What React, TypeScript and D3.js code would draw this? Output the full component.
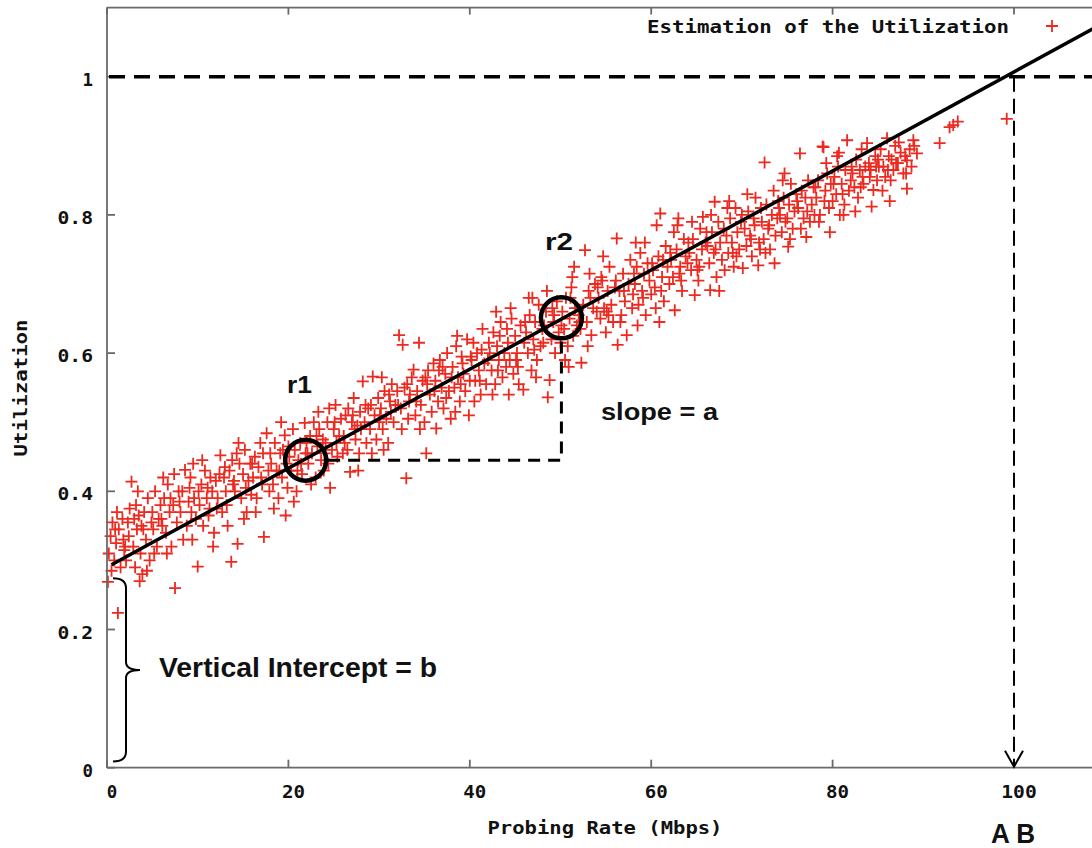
import React from "react";
import * as d3 from "d3";

// ---------- data ----------
const xTicks = [0, 20, 40, 60, 80, 100];
const yTicks = [0, 0.2, 0.4, 0.6, 0.8, 1];
const yTickLabels = ["0", "0.2", "0.4", "0.6", "0.8", "1"];
const xLabel = "Probing Rate (Mbps)";
const yLabel = "Utilization";
const legendLabel = "Estimation of the Utilization";

// fitted regression line: utilization = b + a * rate
const fitIntercept = 0.29;
const fitSlope = 0.00717;

// annotation anchors (data coordinates)
const r1Point: [number, number] = [21.9, 0.445];
const r2Point: [number, number] = [50.1, 0.651];
const availableBandwidth = 100;

// estimated utilization samples [probing rate (Mbps), utilization]
const samples: [number, number][] = [
  [0.2,0.31],[0.4,0.335],[0.1,0.269],[0.6,0.355],[0.8,0.30],[1.0,0.325],[1.2,0.224],[1.3,0.345],[1.5,0.29],[1.7,0.36],[1.9,0.315],[0.5,0.285],[1.1,0.37],[1.8,0.33],
  [2.1,0.30],[2.3,0.355],[2.5,0.375],[2.7,0.414],[2.9,0.32],[3.1,0.29],[3.3,0.345],[3.5,0.365],[3.7,0.31],[3.9,0.28],[2.4,0.335],[3.2,0.38],[3.8,0.35],
  [4.1,0.37],[4.3,0.33],[4.5,0.39],[4.7,0.30],[4.9,0.355],[5.1,0.345],[5.3,0.40],[5.5,0.32],[5.7,0.36],[5.9,0.38],[4.4,0.285],[5.2,0.31],
  [6.1,0.35],[6.3,0.39],[6.5,0.34],[6.7,0.41],[6.9,0.37],[7.1,0.32],[7.3,0.38],[7.5,0.26],[7.7,0.355],[7.9,0.40],[6.6,0.31],[7.4,0.425],
  [8.1,0.37],[8.3,0.40],[8.6,0.431],[8.8,0.35],[9.0,0.385],[9.2,0.42],[9.4,0.33],[9.6,0.39],[9.8,0.36],[8.4,0.33],[9.1,0.405],[10.0,0.291],
  [10.2,0.38],[10.4,0.41],[10.6,0.35],[10.8,0.43],[11.0,0.39],[11.2,0.365],[11.4,0.42],[11.6,0.40],[11.8,0.34],[10.5,0.445],[11.3,0.375],[12.0,0.415],
  [12.2,0.39],[12.5,0.452],[12.7,0.37],[12.9,0.42],[13.1,0.40],[13.3,0.35],[13.5,0.43],[13.7,0.298],[13.9,0.41],[12.4,0.425],[13.2,0.38],[13.8,0.445],
  [14.1,0.40],[14.4,0.324],[14.6,0.44],[14.8,0.39],[15.0,0.425],[15.2,0.46],[15.4,0.37],[15.6,0.415],[15.8,0.44],[14.3,0.455],[15.1,0.36],[15.9,0.395],
  [16.1,0.42],[16.3,0.45],[16.5,0.39],[16.7,0.435],[16.9,0.47],[17.1,0.41],[17.3,0.334],[17.6,0.484],[17.8,0.43],[16.4,0.37],[17.2,0.455],[17.9,0.40],
  [18.1,0.44],[18.3,0.41],[18.5,0.47],[18.7,0.43],[18.9,0.39],[19.1,0.455],[19.3,0.42],[19.6,0.481],[19.8,0.44],[18.4,0.375],[19.4,0.46],[19.9,0.405],
  [20.1,0.45],[20.3,0.43],[20.5,0.49],[20.7,0.46],[20.9,0.40],[21.1,0.445],[21.3,0.47],[21.5,0.425],[21.8,0.499],[21.9,0.455],[20.6,0.385],[21.4,0.44],[22.0,0.47],
  [22.2,0.44],[22.4,0.48],[22.6,0.455],[22.8,0.50],[23.0,0.42],[23.2,0.465],[23.4,0.49],[23.6,0.445],[23.8,0.475],[22.5,0.41],[23.3,0.515],[23.9,0.43],
  [24.1,0.47],[24.3,0.50],[24.6,0.405],[24.8,0.46],[25.0,0.49],[25.2,0.525],[25.4,0.45],[25.6,0.48],[25.8,0.505],[24.4,0.44],[25.3,0.47],[26.0,0.455],
  [26.1,0.48],[26.3,0.51],[26.5,0.46],[26.8,0.428],[27.0,0.50],[27.2,0.535],[27.4,0.475],[27.6,0.495],[27.8,0.455],[26.6,0.52],[27.3,0.49],[27.9,0.515],
  [28.2,0.559],[28.4,0.50],[28.6,0.47],[28.8,0.52],[29.0,0.49],[29.3,0.566],[29.5,0.51],[29.7,0.475],[29.9,0.535],[28.5,0.525],[29.2,0.455],[30.0,0.50],
  [30.2,0.52],[30.4,0.49],[30.6,0.545],[30.8,0.505],[31.0,0.47],[31.2,0.53],[31.4,0.555],[31.6,0.50],[31.8,0.525],[30.5,0.46],[31.3,0.515],[32.0,0.545],
  [32.2,0.626],[32.6,0.612],[32.4,0.52],[32.8,0.55],[33.0,0.419],[33.2,0.505],[33.4,0.54],[33.6,0.565],[33.8,0.576],[32.5,0.49],[33.3,0.53],[34.0,0.51],
  [34.2,0.545],[34.4,0.615],[34.6,0.525],[34.8,0.56],[35.0,0.50],[35.2,0.455],[35.4,0.575],[35.6,0.54],[35.8,0.515],[34.5,0.49],[35.3,0.555],[36.0,0.585],
  [36.3,0.491],[36.2,0.56],[36.5,0.53],[36.7,0.59],[36.9,0.55],[37.1,0.52],[37.3,0.57],[37.5,0.60],[37.7,0.545],[37.9,0.505],[36.6,0.575],[37.4,0.535],
  [38.1,0.58],[38.3,0.55],[38.5,0.61],[38.7,0.565],[38.9,0.53],[39.1,0.595],[39.3,0.57],[39.5,0.545],[39.7,0.62],[38.4,0.515],[39.2,0.585],[40.0,0.56],
  [40.2,0.59],[40.4,0.615],[40.6,0.56],[40.8,0.60],[41.0,0.575],[41.2,0.54],[41.4,0.635],[41.6,0.585],[41.8,0.555],[40.5,0.53],[41.3,0.605],[42.0,0.59],
  [42.2,0.60],[42.4,0.575],[42.6,0.63],[42.8,0.555],[43.0,0.61],[43.2,0.59],[43.4,0.645],[43.6,0.565],[43.8,0.60],[42.5,0.54],[43.3,0.625],[44.0,0.58],
  [44.2,0.615],[44.4,0.59],[44.6,0.65],[44.8,0.57],[45.0,0.625],[45.2,0.60],[45.4,0.555],[45.6,0.64],[45.9,0.547],[44.5,0.665],[45.3,0.58],[46.0,0.615],
  [46.2,0.63],[46.4,0.60],[46.6,0.655],[46.8,0.575],[47.0,0.62],[47.2,0.645],[47.4,0.59],[47.6,0.67],[47.8,0.61],[46.5,0.68],[47.3,0.565],[48.0,0.635],
  [48.2,0.64],[48.6,0.536],[48.8,0.561],[48.4,0.66],[49.0,0.62],[49.2,0.645],[49.4,0.60],[49.6,0.675],[49.8,0.63],[48.5,0.69],[49.3,0.655],[50.0,0.615],
  [50.2,0.66],[50.4,0.635],[50.6,0.68],[50.8,0.61],[51.0,0.65],[51.2,0.695],[51.4,0.625],[51.6,0.665],[51.8,0.64],[50.5,0.59],[51.3,0.71],[52.0,0.655],
  [52.3,0.586],[52.7,0.749],[52.5,0.67],[52.9,0.645],[53.1,0.69],[53.4,0.626],[53.6,0.665],[53.8,0.70],[52.2,0.635],[53.2,0.715],[54.0,0.66],[53.0,0.61],
  [54.2,0.68],[54.4,0.65],[54.6,0.705],[54.8,0.665],[55.0,0.63],[55.2,0.69],[55.4,0.725],[55.6,0.67],[55.8,0.645],[54.5,0.71],[55.3,0.655],[56.0,0.695],
  [56.2,0.766],[56.3,0.612],[57.3,0.626],[56.5,0.69],[56.7,0.655],[56.9,0.715],[57.1,0.675],[57.5,0.70],[57.7,0.735],[57.9,0.665],[56.6,0.645],[58.0,0.685],
  [58.2,0.70],[58.4,0.725],[58.6,0.67],[58.8,0.745],[59.0,0.69],[59.2,0.715],[59.4,0.655],[59.6,0.73],[59.8,0.705],[58.5,0.64],[59.3,0.76],[60.0,0.685],
  [60.2,0.72],[60.6,0.785],[61.0,0.802],[60.4,0.695],[60.8,0.74],[61.2,0.71],[61.4,0.675],[61.6,0.755],[61.8,0.725],[60.5,0.665],[61.3,0.735],[62.0,0.70],
  [62.2,0.735],[62.6,0.662],[63.0,0.795],[62.4,0.71],[62.8,0.75],[63.2,0.725],[63.4,0.69],[63.6,0.765],[63.8,0.74],[62.5,0.775],[63.3,0.705],[64.0,0.73],
  [64.2,0.745],[64.8,0.684],[65.7,0.797],[64.4,0.72],[64.6,0.765],[65.0,0.735],[65.2,0.705],[65.4,0.78],[65.6,0.75],[64.5,0.79],[65.3,0.725],[66.0,0.76],
  [66.5,0.691],[67.0,0.819],[68.1,0.72],[66.2,0.755],[66.4,0.73],[66.7,0.775],[66.9,0.745],[67.2,0.71],[67.4,0.79],[67.6,0.76],[67.8,0.735],[66.6,0.80],
  [68.3,0.77],[68.5,0.745],[68.7,0.795],[68.9,0.76],[69.1,0.725],[69.3,0.81],[69.5,0.775],[69.7,0.75],[69.9,0.79],[68.6,0.82],[69.4,0.74],[70.1,0.723],
  [70.3,0.78],[70.5,0.755],[70.7,0.805],[70.9,0.77],[71.1,0.74],[71.3,0.795],[71.5,0.825],[71.8,0.727],[71.9,0.76],[70.6,0.83],[71.4,0.785],[72.0,0.75],
  [72.2,0.79],[72.5,0.876],[72.4,0.765],[72.7,0.815],[72.9,0.78],[73.1,0.75],[73.3,0.80],[73.5,0.835],[73.7,0.77],[73.9,0.795],[72.6,0.745],[74.0,0.82],
  [74.2,0.80],[74.4,0.775],[74.6,0.825],[74.8,0.79],[75.1,0.754],[75.2,0.815],[75.4,0.845],[75.6,0.78],[75.8,0.805],[74.5,0.85],[75.3,0.765],[76.0,0.83],
  [76.4,0.889],[77.1,0.768],[76.2,0.81],[76.6,0.835],[76.8,0.795],[77.0,0.825],[77.3,0.85],[77.5,0.79],[77.7,0.815],[77.9,0.84],[76.5,0.78],[78.0,0.80],
  [78.2,0.825],[78.4,0.85],[78.6,0.80],[78.9,0.899],[79.0,0.898],[79.2,0.835],[79.4,0.86],[79.6,0.81],[79.8,0.845],[78.5,0.79],[79.3,0.875],[80.0,0.82],
  [80.2,0.855],[80.4,0.83],[80.6,0.87],[80.8,0.80],[81.2,0.80],[81.6,0.908],[81.0,0.845],[81.4,0.865],[81.8,0.835],[80.5,0.885],[81.3,0.815],[82.0,0.85],
  [82.2,0.86],[82.4,0.84],[82.6,0.88],[82.8,0.825],[83.0,0.865],[83.2,0.895],[83.4,0.845],[83.8,0.904],[83.6,0.87],[82.5,0.805],[83.3,0.855],[84.0,0.875],
  [84.3,0.812],[84.5,0.836],[85.6,0.87],[84.2,0.865],[84.7,0.885],[84.9,0.85],[85.1,0.87],[85.3,0.895],[85.8,0.855],[86.0,0.911],[85.5,0.835],[84.8,0.87],
  [86.7,0.865],[86.2,0.885],[86.4,0.85],[86.9,0.90],[87.2,0.875],[87.5,0.89],[87.8,0.86],[86.5,0.88],[87.3,0.905],[88.0,0.885],
  [88.2,0.879],[88.2,0.838],[88.9,0.908],[89.3,0.889],[88.5,0.895],[88.7,0.87],[89.0,0.90],
  [91.8,0.904],[92.9,0.927],[93.3,0.93],[93.8,0.935],[99.2,0.939],
  [0.9,0.345],[2.0,0.32],[3.0,0.36],[4.0,0.345],[5.0,0.37],[6.0,0.36],[7.0,0.39],[8.0,0.385],[9.3,0.37],[10.1,0.40],[11.1,0.405],[12.1,0.375],
  [13.0,0.435],[14.0,0.415],[15.3,0.405],[16.0,0.44],[17.0,0.42],[18.0,0.455],[19.0,0.43],[20.0,0.465],[21.0,0.43],[22.1,0.455],[23.1,0.48],[24.0,0.455],
  [25.1,0.50],[26.2,0.47],[27.1,0.51],[28.0,0.49],[29.1,0.525],[30.1,0.51],[31.1,0.54],[32.1,0.525],[33.1,0.555],[34.1,0.53],[35.1,0.565],[36.1,0.545],
  [37.0,0.58],[38.0,0.565],[39.0,0.555],[40.1,0.595],[41.1,0.56],[42.1,0.615],[43.1,0.575],[44.1,0.635],[45.1,0.59],[46.1,0.645],[47.1,0.605],[48.1,0.615],
  [49.1,0.665],[50.1,0.64],[51.1,0.68],[52.1,0.645],[53.3,0.68],[54.1,0.695],[55.1,0.66],[56.1,0.705],[57.0,0.69],[58.1,0.715],[59.1,0.68],[60.1,0.73],
  [61.1,0.69],[62.1,0.745],[63.1,0.715],[64.1,0.76],[65.1,0.72],[66.1,0.775],[67.1,0.75],[68.0,0.78],[69.0,0.745],[70.0,0.80],[71.0,0.765],[72.1,0.81],
  [73.0,0.785],[74.1,0.81],[75.0,0.795],[76.1,0.82],[77.2,0.805],[78.1,0.84],[79.1,0.82],[80.1,0.845],[81.1,0.83],[82.1,0.87],[83.1,0.84],[84.1,0.855],
  [85.0,0.88],[86.1,0.865],[87.0,0.875],[88.1,0.86],
  [3.4,0.40],[6.2,0.42],[9.5,0.44],[14.5,0.47],[19.2,0.50],[24.5,0.52],[30.3,0.565],[38.6,0.625],[42.9,0.66],[46.9,0.68],[51.5,0.725],[54.7,0.74],
  [58.3,0.76],[62.9,0.785],[68.4,0.81],[74.7,0.86],[80.7,0.89],[3.6,0.27],[11.7,0.32],[19.7,0.365],[27.7,0.43],[39.9,0.51],[44.3,0.54],[50.9,0.58],
  [60.9,0.645],[67.5,0.69],[73.6,0.73],[79.7,0.775],[86.3,0.82],
];

// ---------- layout ----------
const W = 1092;
const H = 848;
const x = d3.scaleLinear().domain([0, 110]).range([107, 107 + 9.07 * 110]);
const y = d3.scaleLinear().domain([0, 1.1]).range([767.7, 767.7 - 691 * 1.1]);

const RED = "#ec2a20";
const AXIS = "#6a6a6a";
const MONO = "'DejaVu Sans Mono', monospace";
const SANS = "'Liberation Sans', Arial, Helvetica, sans-serif";

const plus = (cx: number, cy: number, s: number) =>
  `M${cx - s},${cy}H${cx + s}M${cx},${cy - s}V${cy + s}`;

export default function App() {
  const fitLine = d3
    .line<number>()
    .x((d) => x(d))
    .y((d) => y(fitIntercept + fitSlope * d));
  const fitXs = [0.5, 110];

  const r1 = [x(r1Point[0]), y(r1Point[1])];
  const r2 = [x(r2Point[0]), y(r2Point[1])];
  const circleR = 20.5;
  const abX = x(availableBandwidth);
  const x0 = x(0);
  const y0 = y(0);
  const yTop = y(1.1);

  const braceTop = y(0.274);
  const braceBot = y(0.009);
  const braceMid = (braceTop + braceBot) / 2;
  const bx = x0 + 19;
  const brace = `M${x0 + 6},${braceTop} Q${bx},${braceTop} ${bx},${braceTop + 10} L${bx},${braceMid - 8} Q${bx},${braceMid} ${bx + 14},${braceMid} Q${bx},${braceMid} ${bx},${braceMid + 8} L${bx},${braceBot - 10} Q${bx},${braceBot} ${x0 + 6},${braceBot}`;

  const tickLen = 8;
  const charW = 12.5;

  return (
    <svg
      width={W}
      height={H}
      style={{ position: "absolute", left: 0, top: 0, background: "#fff" }}
      xmlns="http://www.w3.org/2000/svg"
    >
      <rect x={0} y={0} width={W} height={H} fill="#fff" />

      {/* scatter */}
      <g stroke={RED} strokeWidth={1.8} fill="none">
        {samples.map((d, i) => (
          <path key={i} d={plus(x(d[0]), y(d[1]), 6)} />
        ))}
      </g>

      {/* frame & ticks */}
      <g stroke={AXIS} strokeWidth={1.8} fill="none">
        <line x1={x0} y1={yTop} x2={x0} y2={y0} />
        <line x1={x0} y1={y0} x2={W} y2={y0} />
        <line x1={x0} y1={yTop} x2={W} y2={yTop} />
        {yTicks.map((t) => (
          <line key={"yt" + t} x1={x0} x2={x0 + tickLen} y1={y(t)} y2={y(t)} />
        ))}
        {xTicks.map((t) => (
          <g key={"xt" + t}>
            <line x1={x(t)} x2={x(t)} y1={y0} y2={y0 - tickLen} />
            <line x1={x(t)} x2={x(t)} y1={yTop} y2={yTop + 7} />
          </g>
        ))}
      </g>

      {/* tick labels */}
      <g fontFamily={MONO} fontWeight="bold" fontSize={17} fill="#111">
        {yTicks.map((t, i) => (
          <text
            key={"yl" + t}
            x={93}
            y={y(t) + 9}
            textAnchor="end"
            textLength={yTickLabels[i].length * charW - 2}
            lengthAdjust="spacingAndGlyphs"
          >
            {yTickLabels[i]}
          </text>
        ))}
        {xTicks.map((t) => (
          <text
            key={"xl" + t}
            x={x(t) + 5}
            y={798}
            textAnchor="middle"
            textLength={String(t).length * charW - 2}
            lengthAdjust="spacingAndGlyphs"
          >
            {String(t)}
          </text>
        ))}
      </g>

      {/* axis titles */}
      <text
        x={605}
        y={834}
        textAnchor="middle"
        fontFamily={MONO}
        fontWeight="bold"
        fontSize={17}
        fill="#111"
        textLength={235}
        lengthAdjust="spacingAndGlyphs"
      >
        {xLabel}
      </text>
      <text
        transform={`translate(27, 388) rotate(-90)`}
        textAnchor="middle"
        fontFamily={MONO}
        fontWeight="bold"
        fontSize={17}
        fill="#111"
        textLength={137}
        lengthAdjust="spacingAndGlyphs"
      >
        {yLabel}
      </text>

      {/* legend */}
      <text
        x={1009}
        y={33}
        textAnchor="end"
        fontFamily={MONO}
        fontWeight="bold"
        fontSize={17}
        fill="#111"
        textLength={362}
        lengthAdjust="spacingAndGlyphs"
      >
        {legendLabel}
      </text>
      <path d={plus(1052, 26, 6)} stroke={RED} strokeWidth={1.8} fill="none" />

      {/* y = 1 dashed line */}
      <line
        x1={x0 + 2}
        x2={W}
        y1={y(1)}
        y2={y(1)}
        stroke="#000"
        strokeWidth={3.5}
        strokeDasharray="16 9"
      />

      {/* fitted line */}
      <path d={fitLine(fitXs) || ""} stroke="#000" strokeWidth={3.5} fill="none" />

      {/* slope triangle */}
      <path
        d={`M${r1[0] + circleR + 2},${r1[1]} H${r2[0]} V${r2[1] + circleR + 2}`}
        stroke="#000"
        strokeWidth={3}
        strokeDasharray="12 8"
        fill="none"
      />

      {/* circles */}
      <circle cx={r1[0]} cy={r1[1]} r={circleR} stroke="#000" strokeWidth={4.5} fill="none" />
      <circle cx={r2[0]} cy={r2[1]} r={circleR} stroke="#000" strokeWidth={4.5} fill="none" />

      {/* AB vertical dashed arrow */}
      <line
        x1={abX}
        x2={abX}
        y1={y(1)}
        y2={y0 - 2}
        stroke="#000"
        strokeWidth={2}
        strokeDasharray="15 7"
      />
      <path
        d={`M${abX - 9},${y0 - 17} L${abX},${y0 - 1} L${abX + 9},${y0 - 17}`}
        stroke="#000"
        strokeWidth={2}
        fill="none"
      />

      {/* brace */}
      <path d={brace} stroke="#000" strokeWidth={2} fill="none" />

      {/* annotations */}
      <g fontFamily={SANS} fontWeight="bold" fill="#111">
        <text x={287} y={393} fontSize={23} textLength={25} lengthAdjust="spacingAndGlyphs">r1</text>
        <text x={545} y={250} fontSize={23} textLength={28} lengthAdjust="spacingAndGlyphs">r2</text>
        <text x={601} y={420} fontSize={23} textLength={117} lengthAdjust="spacingAndGlyphs">slope = a</text>
        <text x={159} y={677} fontSize={27} textLength={278} lengthAdjust="spacingAndGlyphs">Vertical Intercept = b</text>
        <text x={991} y={843} fontSize={27} textLength={44} lengthAdjust="spacingAndGlyphs">A B</text>
      </g>
    </svg>
  );
}
